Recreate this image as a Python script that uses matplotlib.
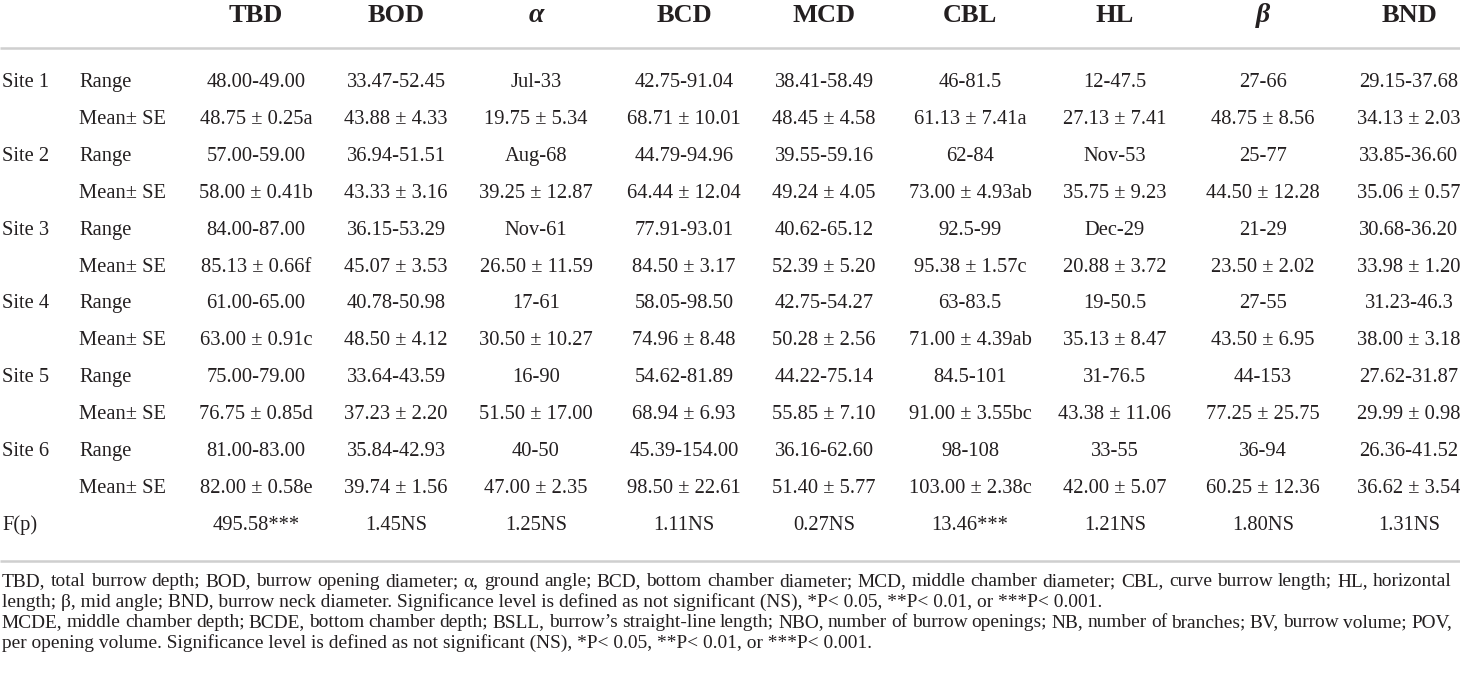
import matplotlib.pyplot as plt

plt.rcParams['font.family'] = ['Liberation Serif', 'DejaVu Serif']

# Table contents
headers = ["TBD", "BOD", "α", "BCD", "MCD", "CBL", "HL", "β", "BND"]
sites = ["Site 1", "Site 2", "Site 3", "Site 4", "Site 5", "Site 6"]

ranges = [
    ["48.00-49.00", "33.47-52.45", "Jul-33", "42.75-91.04", "38.41-58.49", "46-81.5", "12-47.5", "27-66", "29.15-37.68"],
    ["57.00-59.00", "36.94-51.51", "Aug-68", "44.79-94.96", "39.55-59.16", "62-84", "Nov-53", "25-77", "33.85-36.60"],
    ["84.00-87.00", "36.15-53.29", "Nov-61", "77.91-93.01", "40.62-65.12", "92.5-99", "Dec-29", "21-29", "30.68-36.20"],
    ["61.00-65.00", "40.78-50.98", "17-61", "58.05-98.50", "42.75-54.27", "63-83.5", "19-50.5", "27-55", "31.23-46.3"],
    ["75.00-79.00", "33.64-43.59", "16-90", "54.62-81.89", "44.22-75.14", "84.5-101", "31-76.5", "44-153", "27.62-31.87"],
    ["81.00-83.00", "35.84-42.93", "40-50", "45.39-154.00", "36.16-62.60", "98-108", "33-55", "36-94", "26.36-41.52"],
]
means = [
    ["48.75 ± 0.25a", "43.88 ± 4.33", "19.75 ± 5.34", "68.71 ± 10.01", "48.45 ± 4.58", "61.13 ± 7.41a", "27.13 ± 7.41", "48.75 ± 8.56", "34.13 ± 2.03"],
    ["58.00 ± 0.41b", "43.33 ± 3.16", "39.25 ± 12.87", "64.44 ± 12.04", "49.24 ± 4.05", "73.00 ± 4.93ab", "35.75 ± 9.23", "44.50 ± 12.28", "35.06 ± 0.57"],
    ["85.13 ± 0.66f", "45.07 ± 3.53", "26.50 ± 11.59", "84.50 ± 3.17", "52.39 ± 5.20", "95.38 ± 1.57c", "20.88 ± 3.72", "23.50 ± 2.02", "33.98 ± 1.20"],
    ["63.00 ± 0.91c", "48.50 ± 4.12", "30.50 ± 10.27", "74.96 ± 8.48", "50.28 ± 2.56", "71.00 ± 4.39ab", "35.13 ± 8.47", "43.50 ± 6.95", "38.00 ± 3.18"],
    ["76.75 ± 0.85d", "37.23 ± 2.20", "51.50 ± 17.00", "68.94 ± 6.93", "55.85 ± 7.10", "91.00 ± 3.55bc", "43.38 ± 11.06", "77.25 ± 25.75", "29.99 ± 0.98"],
    ["82.00 ± 0.58e", "39.74 ± 1.56", "47.00 ± 2.35", "98.50 ± 22.61", "51.40 ± 5.77", "103.00 ± 2.38c", "42.00 ± 5.07", "60.25 ± 12.36", "36.62 ± 3.54"],
]
f_values = ["495.58***", "1.45NS", "1.25NS", "1.11NS", "0.27NS", "13.46***", "1.21NS", "1.80NS", "1.31NS"]

footnotes = [
    ("TBD, total burrow depth; BOD, burrow opening diameter; α, ground angle; BCD, bottom chamber diameter; "
     "MCD, middle chamber diameter; CBL, curve burrow length; HL, horizontal", True),
    ("length; β, mid angle; BND, burrow neck diameter. Significance level is defined as not significant (NS), "
     "*P< 0.05, **P< 0.01, or ***P< 0.001.", False),
    ("MCDE, middle chamber depth; BCDE, bottom chamber depth; BSLL, burrow’s straight-line length; "
     "NBO, number of burrow openings; NB, number of branches; BV, burrow volume; POV,", True),
    ("per opening volume. Significance level is defined as not significant (NS), *P< 0.05, **P< 0.01, "
     "or ***P< 0.001.", False),
]

# Layout (pixel coordinates)
W, H = 1460, 673
col_x = [256, 396, 536, 684, 824, 970, 1115, 1263, 1409]
txt = '#231f20'
line_c = '#cfcfcf'

fig = plt.figure(figsize=(W / 100, H / 100), dpi=100)
ax = fig.add_axes([0, 0, 1, 1])
ax.set_xlim(0, W)
ax.set_ylim(H, 0)
ax.axis('off')

body_fs = 14.8
head_fs = 19

# Header
for x, h in zip(col_x, headers):
    greek = h in ("α", "β")
    ax.text(x, 22, h, ha='center', va='baseline', fontsize=head_fs + (1 if greek else 0),
            fontweight='bold', style='italic' if greek else 'normal', color=txt)
ax.plot([0, W], [48, 48], color=line_c, lw=1.8, solid_capstyle='butt')

# Body rows
y0, dy = 87, 36.9
row = 0
for i, site in enumerate(sites):
    for label, vals in (("Range", ranges[i]), ("Mean± SE", means[i])):
        y = y0 + row * dy
        if label == "Range":
            ax.text(2, y, site, ha='left', va='baseline', fontsize=body_fs, color=txt)
        ax.text(79, y, label, ha='left', va='baseline', fontsize=body_fs, color=txt)
        for x, v in zip(col_x, vals):
            ax.text(x, y, v, ha='center', va='baseline', fontsize=body_fs, color=txt)
        row += 1
y = y0 + row * dy
ax.text(2, y, "F(p)", ha='left', va='baseline', fontsize=body_fs, color=txt)
for x, v in zip(col_x, f_values):
    ax.text(x, y, v, ha='center', va='baseline', fontsize=body_fs, color=txt)

ax.plot([0, W], [561, 561], color=line_c, lw=1.8, solid_capstyle='butt')

# Footnotes: fit font size on a non-justified line, justify the full lines
fig.canvas.draw()
renderer = fig.canvas.get_renderer()


def text_width(s, fs):
    t = ax.text(0, 0, s, fontsize=fs)
    w = t.get_window_extent(renderer).width
    t.remove()
    return w


foot_fs = 10 * 1100 / text_width(footnotes[1][0], 10)
x_left, x_right = 2, 1452
fy0, fdy = 586, 20.5
for k, (line, just) in enumerate(footnotes):
    fy = fy0 + k * fdy
    if not just:
        ax.text(x_left, fy, line, ha='left', va='baseline', fontsize=foot_fs, color=txt)
        continue
    words = line.split(' ')
    widths = [text_width(w, foot_fs) for w in words]
    gap = (x_right - x_left - sum(widths)) / (len(words) - 1)
    x = x_left
    for w, wd in zip(words, widths):
        ax.text(x, fy, w, ha='left', va='baseline', fontsize=foot_fs, color=txt)
        x += wd + gap

fig.savefig('out.png', dpi=100)
